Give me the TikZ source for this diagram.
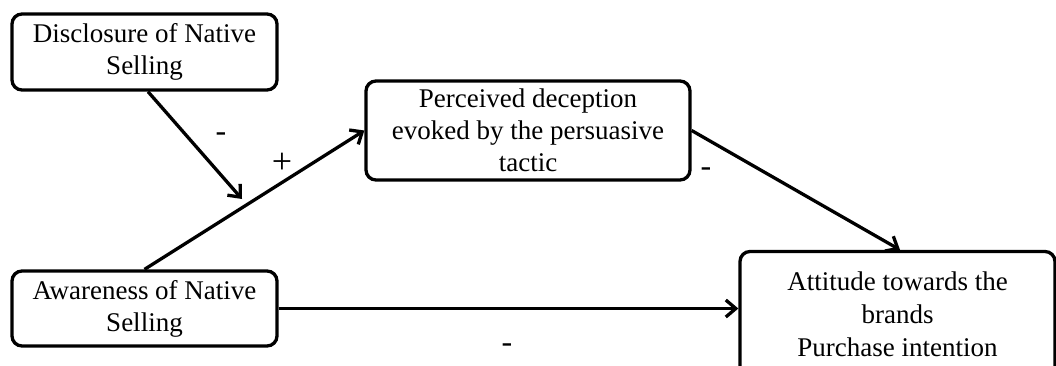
\documentclass[tikz,border=0pt]{standalone}
\usepackage{fontspec}
\setmainfont{Liberation Serif}
\usetikzlibrary{arrows.meta}
\tikzset{
  box/.style={draw, line width=3.3pt, rounded corners=10pt, inner sep=0pt,
              align=center, font=\fontsize{27}{32}\selectfont},
  arr/.style={line width=3.3pt, -{Straight Barb[length=10pt,width=17pt,line width=3.3pt]}},
  sign/.style={inner sep=0pt, font=\fontsize{32}{36}\selectfont},
}
\begin{document}
\begin{tikzpicture}[x=1pt, y=-1pt]
  \useasboundingbox (0,0) rectangle (1056,365);
  \clip (0,0) rectangle (1056,365);

  % constructs
  \node[box, minimum width=265pt, minimum height=76pt] (disc) at (144.5,52)
    {Disclosure of Native\\Selling};
  \node[box, minimum width=265pt, minimum height=75pt] (aware) at (144.5,308.5)
    {Awareness of Native\\Selling};
  \node[box, minimum width=324pt, minimum height=99pt] (perc) at (528,130.5)
    {Perceived deception\\evoked by the persuasive\\tactic};
  \node[box, minimum width=315pt, minimum height=125pt,
        font=\fontsize{27}{33}\selectfont] (att) at (897.5,314)
    {Attitude towards the\\brands\\Purchase intention};

  % moderation point on the awareness path
  \coordinate (mod) at (242,199);

  % paths
  \draw[arr] (aware.north) -- (perc.west);
  \draw[arr] ([xshift=3.5pt]disc.south) -- (mod);
  \draw[arr] (perc.east) -- ([xshift=2.5pt]att.north);
  \draw[arr] (aware.east) -- (aware.east -| att.west);

  % signs
  \node[sign] (s1) at (221,137.5) {-};
  \node[sign, font=\fontsize{36}{40}\selectfont] (s2) at (282,163) {+};
  \node[sign] (s3) at (706,172.5) {-};
  \node[sign] (s4) at (507,348.5) {-};
\end{tikzpicture}
\end{document}
